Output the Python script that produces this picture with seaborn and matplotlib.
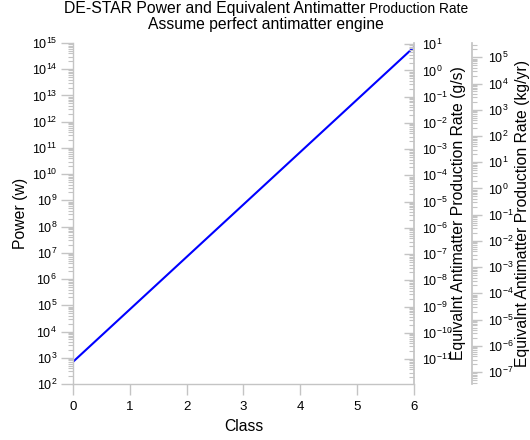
import numpy as np
import pandas as pd
import matplotlib
matplotlib.use("Agg")
import matplotlib.pyplot as plt
import matplotlib.ticker as mticker
import seaborn as sns

# DE-STAR class vs. laser power (W)
classes = [0, 1, 2, 3, 4, 5, 6]
power_w = [7.0e2, 7.0e4, 7.0e6, 7.0e8, 7.0e10, 7.0e12, 7.0e14]

# axis range and conversions (E = m c^2)
power_lim = [1e2, 1e15]
c_sq = 2.99792458e8 ** 2          # m^2/s^2
sec_per_year = 3.15576e7

gs_lim = [p / c_sq * 1e3 for p in power_lim]            # g/s
kgyr_lim = [p / c_sq * sec_per_year for p in power_lim]  # kg/yr

sns.set_theme(style="white")
plt.rcParams["font.family"] = ["Liberation Sans", "DejaVu Sans"]
plt.rcParams["mathtext.fontset"] = "custom"
plt.rcParams["mathtext.rm"] = "Liberation Sans"
plt.rcParams["mathtext.it"] = "Liberation Sans:italic"
plt.rcParams["axes.unicode_minus"] = False
plt.rcParams["text.color"] = "black"
plt.rcParams["axes.labelcolor"] = "black"
plt.rcParams["xtick.labelcolor"] = "black"
plt.rcParams["ytick.labelcolor"] = "black"

GRAY = "#c4c4c4"
TICK_FS = 9.0
LABEL_FS = 11.3

fig = plt.figure(figsize=(5.3, 4.4), dpi=100)
ax = fig.add_axes([73 / 530, 1 - 384 / 440, 341 / 530, 341 / 440])

df = pd.DataFrame({"Class": classes, "Power": power_w})
sns.lineplot(data=df, x="Class", y="Power", ax=ax, color="#0000ff", linewidth=1.5)

ax.set_yscale("log")
ax.set_xlim(0, 6)
ax.set_ylim(*power_lim)
ax.set_xticks(classes)
ax.yaxis.set_major_locator(mticker.LogLocator(base=10, numticks=20))
ax.yaxis.set_minor_locator(mticker.LogLocator(base=10, subs=np.arange(2, 10), numticks=20))
ax.yaxis.set_minor_formatter(mticker.NullFormatter())

for side in ["top", "right"]:
    ax.spines[side].set_visible(False)
for side in ["left", "bottom"]:
    ax.spines[side].set_color(GRAY)
    ax.spines[side].set_linewidth(1.0)

ax.tick_params(axis="x", which="major", direction="out", length=8, width=1,
               color=GRAY, labelsize=TICK_FS + 0.5, pad=4, bottom=True)
ax.tick_params(axis="y", which="major", direction="out", length=8.5, width=1,
               color=GRAY, labelsize=TICK_FS, pad=3, left=True)
ax.tick_params(axis="y", which="minor", direction="out", length=3.6, width=0.8,
               color=GRAY, left=True)

ax.set_xlabel("Class", fontsize=LABEL_FS)
ax.set_ylabel("Power (w)", fontsize=LABEL_FS)
ax.xaxis.set_label_coords(0.5, -0.103)
ax.yaxis.set_label_coords(-0.132, 0.5)

# secondary axis: antimatter production in g/s
ax2 = ax.twinx()
ax2.set_yscale("log")
ax2.set_ylim(*gs_lim)
ax2.yaxis.set_major_locator(mticker.LogLocator(base=10, numticks=20))
ax2.yaxis.set_minor_locator(mticker.LogLocator(base=10, subs=np.arange(2, 10), numticks=20))
ax2.yaxis.set_minor_formatter(mticker.NullFormatter())
for side in ["top", "left", "bottom"]:
    ax2.spines[side].set_visible(False)
ax2.spines["right"].set_color(GRAY)
ax2.tick_params(axis="y", which="major", direction="in", length=7.5, width=1,
                color=GRAY, labelsize=TICK_FS, pad=5.5)
ax2.tick_params(axis="y", which="minor", direction="in", length=3.6, width=0.8, color=GRAY)
ax2.set_ylabel("Equivalnt Antimatter Production Rate (g/s)", fontsize=LABEL_FS)
ax2.yaxis.set_label_coords(1.108, 0.5)

# tertiary axis: antimatter production in kg/yr
ax3 = ax.twinx()
ax3.set_yscale("log")
ax3.set_ylim(*kgyr_lim)
ax3.spines["right"].set_position(("axes", 399 / 341))
ax3.yaxis.set_major_locator(mticker.LogLocator(base=10, numticks=20))
ax3.yaxis.set_minor_locator(mticker.LogLocator(base=10, subs=np.arange(2, 10), numticks=20))
ax3.yaxis.set_minor_formatter(mticker.NullFormatter())
for side in ["top", "left", "bottom"]:
    ax3.spines[side].set_visible(False)
ax3.spines["right"].set_color(GRAY)
ax3.tick_params(axis="y", which="major", direction="out", length=7.5, width=1,
                color=GRAY, labelsize=TICK_FS, pad=4)
ax3.tick_params(axis="y", which="minor", direction="out", length=3.6, width=0.8, color=GRAY)
ax3.set_ylabel("Equivalnt Antimatter Production Rate (kg/yr)", fontsize=LABEL_FS)
ax3.yaxis.set_label_coords(1.296, 0.5)

# two-line title, with the tail of the first line set smaller
fig.canvas.draw()
renderer = fig.canvas.get_renderer()
y1 = 1 - 9 / 440
t_a = fig.text(0, y1, "DE-STAR Power and Equivalent Antimatter ", fontsize=LABEL_FS,
               ha="left", va="center")
t_b = fig.text(0, y1, "Production Rate", fontsize=9.9, ha="left", va="center")
wa = t_a.get_window_extent(renderer).width
wb = t_b.get_window_extent(renderer).width
x0 = 266 - (wa + wb) / 2
t_a.set_x(x0 / 530)
t_b.set_x((x0 + wa) / 530)
fig.text(266 / 530, 1 - 25 / 440, "Assume perfect antimatter engine", fontsize=LABEL_FS,
         ha="center", va="center")

fig.savefig("out.png", dpi=100)
